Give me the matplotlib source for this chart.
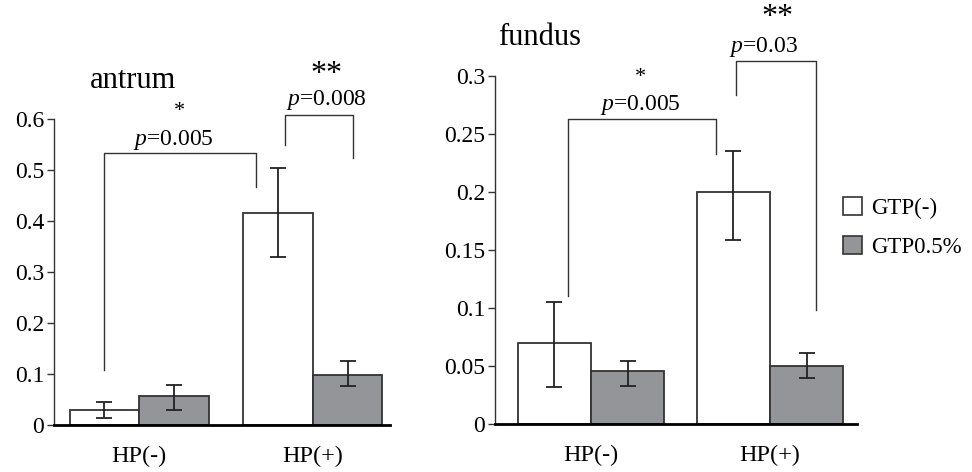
import numpy as np
import matplotlib as mpl
mpl.use('Agg')
import matplotlib.pyplot as plt
from matplotlib.patches import Patch

mpl.rcParams['font.family'] = ['Liberation Serif', 'DejaVu Serif']
mpl.rcParams['mathtext.fontset'] = 'custom'
mpl.rcParams['mathtext.rm'] = 'Liberation Serif'
mpl.rcParams['mathtext.it'] = 'Liberation Serif:italic'

groups = ['HP(-)', 'HP(+)']
series = ['GTP(-)', 'GTP0.5%']

# antrum: means and error-bar ends
antrum_neg = [0.029, 0.415]
antrum_neg_lo = [0.014, 0.330]
antrum_neg_hi = [0.046, 0.504]
antrum_gtp = [0.057, 0.098]
antrum_gtp_lo = [0.029, 0.077]
antrum_gtp_hi = [0.078, 0.125]

# fundus
fundus_neg = [0.070, 0.200]
fundus_neg_lo = [0.032, 0.159]
fundus_neg_hi = [0.105, 0.235]
fundus_gtp = [0.046, 0.050]
fundus_gtp_lo = [0.033, 0.040]
fundus_gtp_hi = [0.054, 0.0615]

# brackets: x_left, x_right, y_left_end, y_top, y_right_end, p text, stars
antrum_brackets = [(-0.201, 0.672, 0.108, 0.533, 0.467, '0.005', '*'),
                   (0.839, 1.230, 0.549, 0.608, 0.523, '0.008', '**')]
fundus_brackets = [(-0.128, 0.698, 0.110, 0.2626, 0.233, '0.005', '*'),
                   (0.810, 1.257, 0.2836, 0.313, 0.098, '0.03', '**')]

EDGE = '#333333'
GRAY = '#939598'

fig = plt.figure(figsize=(9.72, 4.72), dpi=100)
axA = fig.add_axes([0.0556, 0.0996, 0.3456, 0.6483])
axF = fig.add_axes([0.5093, 0.1017, 0.3724, 0.7373])


def panel(ax, m1, lo1, hi1, m2, lo2, hi2, w, ylim, yticks, ytl, xlim):
    x = np.arange(len(groups))
    e1 = [np.subtract(m1, lo1), np.subtract(hi1, m1)]
    e2 = [np.subtract(m2, lo2), np.subtract(hi2, m2)]
    ax.bar(x - w / 2, m1, w, color='white', edgecolor=EDGE, linewidth=1.3,
           yerr=e1, error_kw=dict(ecolor='#222222', elinewidth=1.3, capsize=6, capthick=1.3))
    ax.bar(x + w / 2, m2, w, color=GRAY, edgecolor=EDGE, linewidth=1.3,
           yerr=e2, error_kw=dict(ecolor='#222222', elinewidth=1.3, capsize=6, capthick=1.3))
    ax.set_xlim(*xlim)
    ax.set_ylim(*ylim)
    ax.set_yticks(yticks)
    ax.set_yticklabels(ytl, fontsize=17)
    ax.set_xticks(x)
    ax.set_xticklabels(groups, fontsize=17.5)
    ax.tick_params(axis='x', length=0, pad=15)
    ax.tick_params(axis='y', length=5, width=1, color='#333333', pad=2)
    for s in ('top', 'right'):
        ax.spines[s].set_visible(False)
    ax.spines['left'].set_color('#333333')
    ax.spines['left'].set_linewidth(1.0)
    ax.spines['bottom'].set_color('black')
    ax.spines['bottom'].set_linewidth(2.0)
    ax.set_facecolor('none')


def brackets(ax, specs, ptext_pos, star_pos, star_sizes):
    for (xl, xr, yl, yt, yr, p, st), (px, py), (sx, sy), ss in zip(specs, ptext_pos, star_pos, star_sizes):
        ax.plot([xl, xl, xr, xr], [yl, yt, yt, yr], color='#333333', lw=1.0, clip_on=False)
        ax.text(px, py, '$p$=' + p, ha='center', va='baseline', fontsize=17, clip_on=False)
        ax.text(sx, sy, st, ha='center', va='center', fontsize=ss, clip_on=False)


panel(axA, antrum_neg, antrum_neg_lo, antrum_neg_hi, antrum_gtp, antrum_gtp_lo, antrum_gtp_hi,
      0.40, (0, 0.6), [0, 0.1, 0.2, 0.3, 0.4, 0.5, 0.6],
      ['0', '0.1', '0.2', '0.3', '0.4', '0.5', '0.6'], (-0.489, 1.443))
brackets(axA, antrum_brackets, [(0.195, 0.549), (1.08, 0.627)],
         [(0.23, 0.615), (1.08, 0.688)], [16, 23])
axA.text(-0.034, 0.661, 'antrum', ha='center', va='baseline', fontsize=22, clip_on=False)

panel(axF, fundus_neg, fundus_neg_lo, fundus_neg_hi, fundus_gtp, fundus_gtp_lo, fundus_gtp_hi,
      0.41, (0, 0.3), [0, 0.05, 0.1, 0.15, 0.2, 0.25, 0.3],
      ['0', '0.05', '0.1', '0.15', '0.2', '0.25', '0.3'], (-0.536, 1.486))
brackets(axF, fundus_brackets, [(0.274, 0.2707), (0.961, 0.321)],
         [(0.274, 0.299), (1.039, 0.3505)], [16, 23])
axF.text(-0.285, 0.3267, 'fundus', ha='center', va='baseline', fontsize=22, clip_on=False)

handles = [Patch(facecolor='white', edgecolor=EDGE, linewidth=1.2),
           Patch(facecolor=GRAY, edgecolor=EDGE, linewidth=1.2)]
fig.legend(handles, series, loc='center left', bbox_to_anchor=(0.855, 0.518),
           frameon=False, fontsize=16.5, handlelength=0.85, handleheight=0.85,
           handletextpad=0.4, labelspacing=0.75, borderpad=0)

fig.savefig('out.png', dpi=100, facecolor='white')
